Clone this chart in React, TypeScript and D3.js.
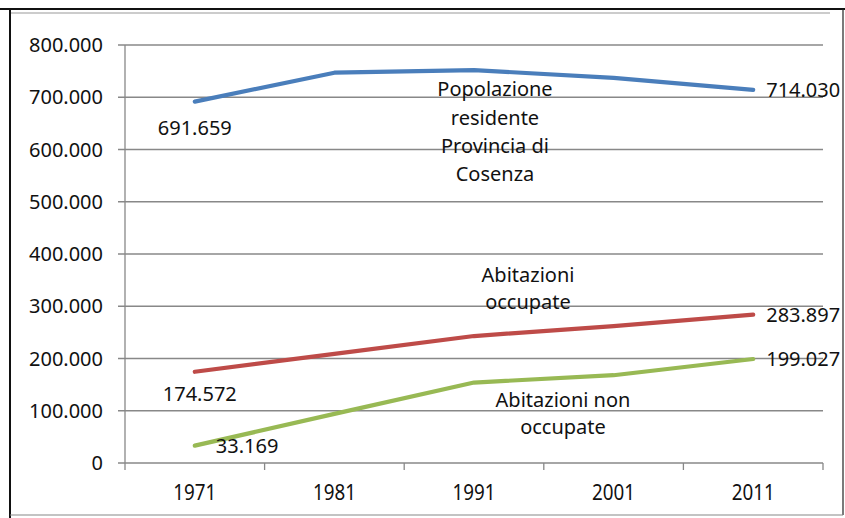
import React from 'react';
import * as d3 from 'd3';

const years = ['1971', '1981', '1991', '2001', '2011'];
const popolazione = [691659, 747000, 752000, 737000, 714030];
const abitazioniOccupate = [174572, 209000, 243000, 262000, 283897];
const abitazioniNonOccupate = [33169, 94000, 154000, 168000, 199027];
const yTicks = [0, 100000, 200000, 300000, 400000, 500000, 600000, 700000, 800000];

const series = [
  { name: 'pop', values: popolazione, color: '#4A7EBB' },
  { name: 'occ', values: abitazioniOccupate, color: '#BE4B48' },
  { name: 'non', values: abitazioniNonOccupate, color: '#98B954' },
];

// value labels shown on the chart: [series index, point index]
const valueLabels = [
  { s: 0, i: 0, dx: 0, dy: 33, anchor: 'middle' },
  { s: 0, i: 4, dx: 13, dy: 7, anchor: 'start' },
  { s: 1, i: 0, dx: 5, dy: 29, anchor: 'middle' },
  { s: 1, i: 4, dx: 13, dy: 7, anchor: 'start' },
  { s: 2, i: 0, dx: 21, dy: 7, anchor: 'start' },
  { s: 2, i: 4, dx: 13, dy: 7, anchor: 'start' },
];

const seriesNames = [
  { lines: ['Popolazione', 'residente', 'Provincia di', 'Cosenza'], year: '1991', dx: 21, value: 702000, gap: 28.3 },
  { lines: ['Abitazioni', 'occupate'], year: '1991', dx: 54, value: 346000, gap: 26.5 },
  { lines: ['Abitazioni non', 'occupate'], year: '1991', dx: 89, value: 107000, gap: 26.5 },
];

const itLocale = d3.formatLocale({ decimal: ',', thousands: '.', grouping: [3], currency: ['', '€'] });
const fmt = itLocale.format(',d');

export default function App() {
  const width = 845;
  const height = 518;
  const margin = { top: 45, right: 22, bottom: 55, left: 125 };
  const innerW = width - margin.left - margin.right;
  const innerH = height - margin.top - margin.bottom;

  const x = d3.scaleBand().domain(years).range([0, innerW]);
  const cx = (d: string) => (x(d) || 0) + x.bandwidth() / 2;
  const y = d3.scaleLinear().domain([0, 800000]).range([innerH, 0]);

  const line = d3.line<number>()
    .x((_, i) => cx(years[i]))
    .y(d => y(d));

  const font = "'Noto Sans', sans-serif";
  const grid = '#888888';

  return (
    <svg width={width} height={height} style={{ position: 'absolute', left: 0, top: 0, background: '#fff' }}
      fontFamily={font}>
      {/* frame */}
      <line x1={0} x2={width} y1={9} y2={9} stroke="#111" strokeWidth={2} />
      <line x1={11} x2={830} y1={13} y2={13} stroke="#999" strokeWidth={1} />
      <line x1={10} x2={10} y1={9} y2={height} stroke="#111" strokeWidth={2} />
      <line x1={843} x2={843} y1={9} y2={515} stroke="#222" strokeWidth={1.2} />
      <line x1={10} x2={843} y1={515} y2={515} stroke="#888" strokeWidth={1.2} />

      <g transform={`translate(${margin.left},${margin.top})`}>
        {/* horizontal gridlines + y ticks */}
        {yTicks.map(t => (
          <g key={t}>
            <line x1={-7} x2={innerW} y1={y(t)} y2={y(t)} stroke={grid} strokeWidth={1.3} />
            <text x={-22} y={y(t)} dy="0.36em" textAnchor="end" fontSize={20} fill="#111">{fmt(t)}</text>
          </g>
        ))}
        {/* y axis */}
        <line x1={0} x2={0} y1={0} y2={innerH} stroke={grid} strokeWidth={1.3} />
        {/* x axis ticks */}
        {years.map(d => (
          <line key={'t' + d} x1={(x(d) || 0)} x2={(x(d) || 0)} y1={innerH} y2={innerH + 7} stroke={grid} strokeWidth={1.3} />
        ))}
        <line x1={innerW} x2={innerW} y1={innerH} y2={innerH + 7} stroke={grid} strokeWidth={1.3} />
        {years.map(d => (
          <text key={d} x={cx(d)} y={innerH + 37} textAnchor="middle" fontSize={20} fill="#111"
            transform={`translate(${cx(d)},${innerH + 37}) scale(0.94,1.12) translate(${-cx(d)},${-(innerH + 37)})`}>{d}</text>
        ))}

        {/* lines */}
        {series.map(s => (
          <path key={s.name} d={line(s.values) || ''} fill="none" stroke={s.color} strokeWidth={4.2}
            strokeLinecap="round" strokeLinejoin="round" />
        ))}

        {/* value labels */}
        {valueLabels.map((l, k) => {
          const v = series[l.s].values[l.i];
          return (
            <text key={k} x={cx(years[l.i]) + l.dx} y={y(v) + l.dy} textAnchor={l.anchor as any}
              fontSize={20} fill="#111">{fmt(v)}</text>
          );
        })}

        {/* series name labels */}
        {seriesNames.map((n, k) => (
          <text key={k} textAnchor="middle" fontSize={20} fill="#111">
            {n.lines.map((ln, j) => (
              <tspan key={j} x={cx(n.year) + n.dx} y={y(n.value) + j * n.gap}>{ln}</tspan>
            ))}
          </text>
        ))}
      </g>
    </svg>
  );
}
